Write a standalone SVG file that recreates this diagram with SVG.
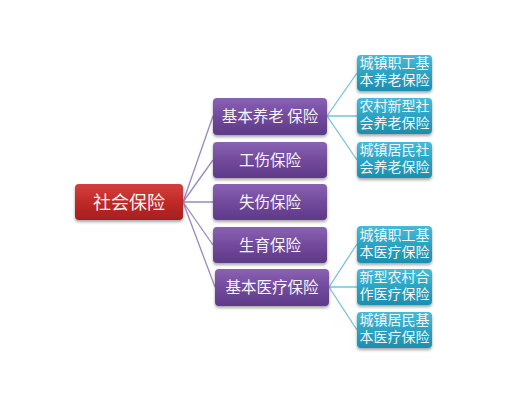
<svg xmlns="http://www.w3.org/2000/svg" width="522" height="409" viewBox="0 0 522 409">
<defs>
<linearGradient id="gRed" x1="0" y1="0" x2="0" y2="1">
<stop offset="0" stop-color="#d2403c"/><stop offset="0.5" stop-color="#c02a28"/><stop offset="1" stop-color="#a51e1f"/>
</linearGradient>
<linearGradient id="gPur" x1="0" y1="0" x2="0" y2="1">
<stop offset="0" stop-color="#8a62b4"/><stop offset="0.5" stop-color="#724a9c"/><stop offset="1" stop-color="#5e3a88"/>
</linearGradient>
<linearGradient id="gTeal" x1="0" y1="0" x2="0" y2="1">
<stop offset="0" stop-color="#45bcd8"/><stop offset="0.5" stop-color="#2aa4c4"/><stop offset="1" stop-color="#1d8eae"/>
</linearGradient>
<filter id="sh" x="-10%" y="-10%" width="120%" height="140%">
<feDropShadow dx="0" dy="2" stdDeviation="1.5" flood-color="#000" flood-opacity="0.35"/>
</filter>
</defs>
<style>
text{font-family:"Noto Sans CJK SC","Noto Sans",sans-serif;fill:#f4f4f4;text-anchor:middle}
.root text{font-size:18px}
.mid text{font-size:15.5px}
.leaf text{font-size:14px}
.root rect{fill:url(#gRed);filter:url(#sh)}
.mid rect{fill:url(#gPur);filter:url(#sh)}
.leaf rect{fill:url(#gTeal);filter:url(#sh)}
.c1{stroke:#9c88bc;stroke-width:1.3;fill:none}
.c2{stroke:#74c3d8;stroke-width:1.3;fill:none}
</style>
<rect width="522" height="409" fill="#ffffff"/>
<g id="connectors">
<path class="c1" d="M183 202 L213 116 M183 202 L213 160 M183 202 L213 202 M183 202 L213 245 M183 202 L215 287"/>
<path class="c2" d="M327 116 L357 73 M327 116 L357 116 M327 116 L357 160"/>
<path class="c2" d="M329 287 L357 244 M329 287 L357 287 M329 287 L357 330"/>
</g>
<g id="n-root" class="root"><rect x="75" y="184" width="108" height="36" rx="4"/><text x="129" y="208.5">社会保险</text></g>
<g id="n-yanglao" class="mid"><rect x="213" y="98" width="114" height="37" rx="4"/><text x="270" y="122">基本养老 保险</text></g>
<g id="n-gongshang" class="mid"><rect x="213" y="142" width="114" height="36" rx="4"/><text x="270" y="165.5">工伤保险</text></g>
<g id="n-shiye" class="mid"><rect x="213" y="184" width="114" height="36" rx="4"/><text x="270" y="207.5">失伤保险</text></g>
<g id="n-shengyu" class="mid"><rect x="213" y="227" width="114" height="36" rx="4"/><text x="270" y="250.5">生育保险</text></g>
<g id="n-yiliao" class="mid"><rect x="215" y="269" width="114" height="37" rx="4"/><text x="272" y="293">基本医疗保险</text></g>
<g id="n-l1" class="leaf"><rect x="357" y="55" width="75" height="36" rx="4"/><text x="394.5" y="68">城镇职工基</text><text x="394.5" y="85">本养老保险</text></g>
<g id="n-l2" class="leaf"><rect x="357" y="98" width="75" height="36" rx="4"/><text x="394.5" y="111">农村新型社</text><text x="394.5" y="128">会养老保险</text></g>
<g id="n-l3" class="leaf"><rect x="357" y="142" width="75" height="36" rx="4"/><text x="394.5" y="155">城镇居民社</text><text x="394.5" y="172">会养老保险</text></g>
<g id="n-l4" class="leaf"><rect x="357" y="226" width="75" height="37" rx="4"/><text x="394.5" y="239.5">城镇职工基</text><text x="394.5" y="256.5">本医疗保险</text></g>
<g id="n-l5" class="leaf"><rect x="357" y="269" width="75" height="36" rx="4"/><text x="394.5" y="282">新型农村合</text><text x="394.5" y="299">作医疗保险</text></g>
<g id="n-l6" class="leaf"><rect x="357" y="312" width="75" height="36" rx="4"/><text x="394.5" y="325">城镇居民基</text><text x="394.5" y="342">本医疗保险</text></g>
</svg>
